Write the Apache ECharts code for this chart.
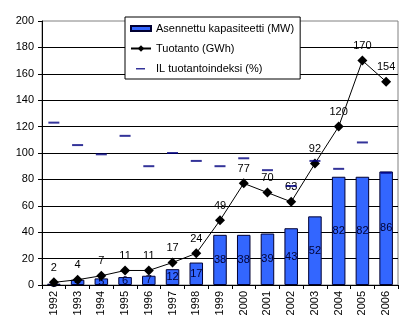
<!DOCTYPE html>
<html>
<head>
<meta charset="utf-8">
<script src="https://cdn.jsdelivr.net/npm/echarts@6/dist/echarts.min.js"></script>
<style>
html,body{margin:0;padding:0;background:#fff;}
#chart{width:410px;height:321px;}
</style>
</head>
<body>
<div id="chart"></div>
<script>
var years = ['1992','1993','1994','1995','1996','1997','1998','1999','2000','2001','2002','2003','2004','2005','2006'];
var capacityMW = [1, 4, 5, 6, 7, 12, 17, 38, 38, 39, 43, 52, 82, 82, 86];
var productionGWh = [2, 4, 7, 11, 11, 17, 24, 49, 77, 70, 63, 92, 120, 170, 154];
var ilIndex = [123, 106, 99, 113, 90, 100, 94, 90, 96, 87, 75, 94, 88, 108, 85];
var yMin = 0, yMax = 200, yStep = 20;
var seriesNames = ['Asennettu kapasiteetti (MW)', 'Tuotanto (GWh)', 'IL tuotantoindeksi (%)'];

var font = 'Liberation Sans, Arial, sans-serif';
var chart = echarts.init(document.getElementById('chart'), null, {renderer: 'canvas'});
chart.setOption({
  animation: false,
  backgroundColor: '#ffffff',
  textStyle: {fontFamily: font},
  grid: {left: 42, right: 12, top: 21, bottom: 36, show: true, borderColor: '#808080', borderWidth: 1, backgroundColor: '#ffffff', containLabel: false},
  legend: {
    left: 125, top: 17, orient: 'vertical',
    backgroundColor: '#ffffff', borderColor: '#000000', borderWidth: 1,
    padding: [6, 6, 5, 5], itemGap: 9, itemWidth: 20, itemHeight: 8,
    textStyle: {fontFamily: font, fontSize: 11, color: '#000000'},
    data: [
      {name: seriesNames[0], icon: 'path://M0,0M20,8M0,1.5L20,1.5L20,6.5L0,6.5Z'},
      {name: seriesNames[1]},
      {name: seriesNames[2], icon: 'path://M0,0M20,8M5,3.5L14,3.5L14,5L5,5Z'}
    ]
  },
  xAxis: {
    type: 'category', data: years, boundaryGap: true,
    axisLine: {lineStyle: {color: '#000000', width: 1}},
    axisTick: {show: true, length: 4, alignWithLabel: false, lineStyle: {color: '#000000'}},
    axisLabel: {rotate: 90, fontSize: 11, color: '#000000', margin: 6, fontFamily: font, interval: 0}
  },
  yAxis: {
    type: 'value', min: yMin, max: yMax, interval: yStep,
    axisLine: {show: true, lineStyle: {color: '#000000', width: 1}},
    axisTick: {show: true, length: 4, lineStyle: {color: '#000000'}},
    axisLabel: {fontSize: 11, color: '#000000', margin: 8, fontFamily: font},
    splitLine: {show: true, showMaxLine: false, lineStyle: {color: '#000000', width: 1}}
  },
  series: [
    {
      name: seriesNames[0], type: 'bar', data: capacityMW, barWidth: '57%', z: 2,
      itemStyle: {color: '#3366ff', borderColor: '#000033', borderWidth: 1},
      label: {show: true, position: 'inside', color: '#000033', fontSize: 11, fontFamily: font}
    },
    {
      name: seriesNames[1], type: 'line', data: productionGWh, z: 4,
      symbol: 'diamond', symbolSize: 10, showAllSymbol: true,
      lineStyle: {color: '#000000', width: 1},
      itemStyle: {color: '#000000'},
      label: {show: true, position: 'top', distance: 4, color: '#000000', fontSize: 11, fontFamily: font}
    },
    {
      name: seriesNames[2], type: 'scatter', data: ilIndex, z: 5,
      symbol: 'rect', symbolSize: [11, 2],
      itemStyle: {color: '#000080'}
    }
  ]
});
</script>
</body>
</html>
